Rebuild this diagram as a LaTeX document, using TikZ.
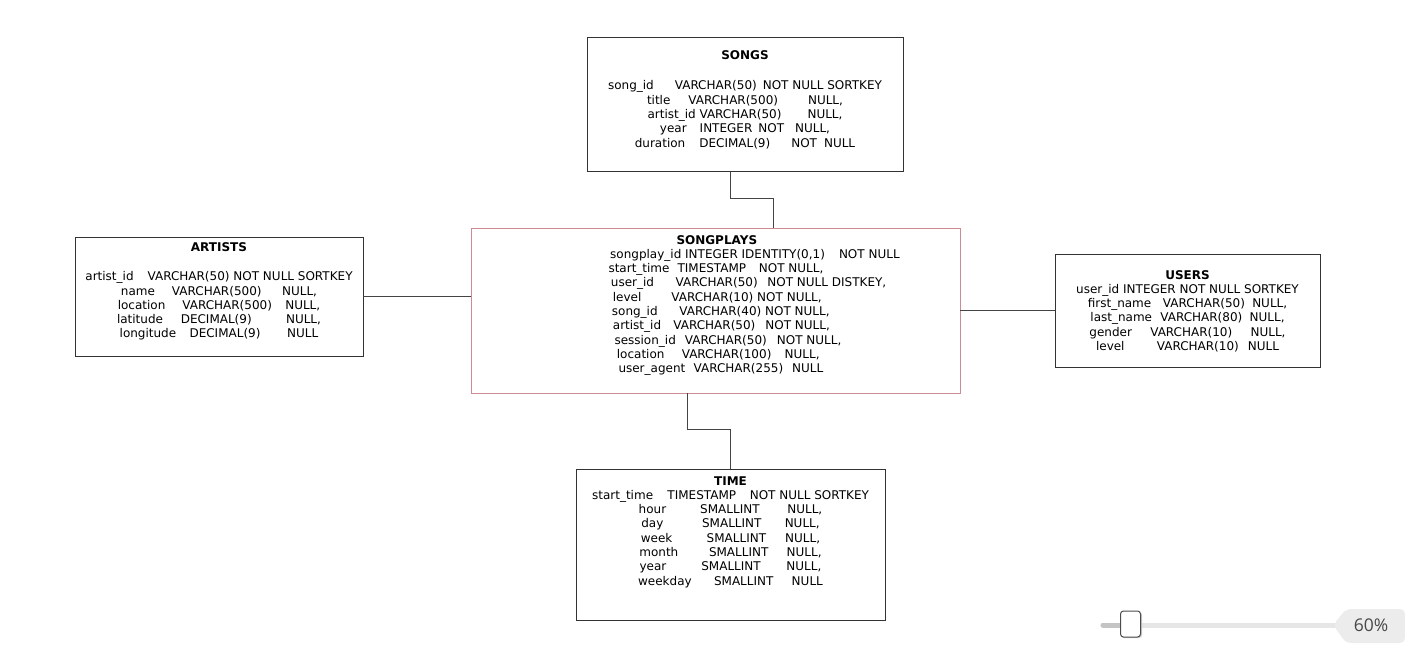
\documentclass[tikz,border=0pt]{standalone}
\usepackage{fontspec}
\setmainfont{DejaVu Sans}
\newfontfamily\pctfont{Open Sans}
\usepackage{tikz}
\usetikzlibrary{positioning, calc}
\definecolor{boxgray}{HTML}{333333}
\definecolor{linegray}{HTML}{444444}
\definecolor{factpink}{HTML}{CC8C94}
\definecolor{trackgray}{HTML}{E6E6E6}
\definecolor{trackdark}{HTML}{C4C4C4}
\definecolor{taggray}{HTML}{ECECEC}
\newcommand{\fgap}[1]{\hspace{#1pt}}

\begin{document}
\begin{tikzpicture}[
    x=1pt, y=-1pt,
    tbl/.style={draw=boxgray, line width=1pt, fill=white, inner sep=0pt, outer sep=0pt},
    fields/.style={font=\fontsize{12}{14.3}\selectfont, align=center, inner sep=0pt, anchor=base},
    conn/.style={draw=linegray, line width=1pt},
]
\useasboundingbox (0,0) rectangle (1405,663);

% Tables
\node[tbl, minimum width=316pt, minimum height=134pt] (songs) at (745,105) {};
\node[tbl, minimum width=288pt, minimum height=119pt] (artists) at (219,296.5) {};
\node[tbl, draw=factpink, minimum width=489pt, minimum height=165pt] (plays) at (715.5,310.5) {};
\node[tbl, minimum width=265pt, minimum height=113pt] (users) at (1187.5,310.5) {};
\node[tbl, minimum width=309pt, minimum height=151pt] (time) at (730.5,544.5) {};

% Songs (anchored at the baseline of the last line)
\node[fields] (songsTxt) at (745,147.2) {
  \textbf{SONGS}\\[15.7pt]
  song\_id\fgap{21}VARCHAR(50)\fgap{6}NOT NULL SORTKEY\\
  title\fgap{18}VARCHAR(500)\fgap{30}NULL,\\
  artist\_id VARCHAR(50)\fgap{26}NULL,\\
  year\fgap{13}INTEGER\fgap{6}NOT\fgap{11}NULL,\\
  duration\fgap{14}DECIMAL(9)\fgap{21}NOT\fgap{7}NULL
};

% Artists
\node[fields] (artistsTxt) at (219,337.9) {
  \textbf{ARTISTS}\\[15.4pt]
  artist\_id\fgap{14}VARCHAR(50) NOT NULL SORTKEY\\
  name\fgap{17}VARCHAR(500)\fgap{20.5}NULL,\\
  location\fgap{17}VARCHAR(500)\fgap{13.3}NULL,\\
  latitude\fgap{17.7}DECIMAL(9)\fgap{34.3}NULL,\\
  longitude\fgap{13.3}DECIMAL(9)\fgap{26.7}NULL
};

% Songplays
\node[fields, align=left, anchor=base west] (playsTxt) at (608.3,372.7) {
  \hspace*{68pt}\textbf{SONGPLAYS}\\
  \hspace*{1.7pt}songplay\_id INTEGER IDENTITY(0,1)\fgap{14}NOT NULL\\
  start\_time\fgap{8}TIMESTAMP\fgap{12.7}NOT NULL,\\
  \hspace*{2.4pt}user\_id\fgap{21.7}VARCHAR(50)\fgap{9.7}NOT NULL DISTKEY,\\
  \hspace*{4.4pt}level\fgap{30}VARCHAR(10) NOT NULL,\\
  \hspace*{3.4pt}song\_id\fgap{21.7}VARCHAR(40) NOT NULL,\\
  \hspace*{4.4pt}artist\_id\fgap{12.3}VARCHAR(50)\fgap{10}NOT NULL,\\
  \hspace*{6pt}session\_id\fgap{9}VARCHAR(50)\fgap{10}NOT NULL,\\
  \hspace*{8.4pt}location\fgap{17.3}VARCHAR(100)\fgap{13.3}NULL,\\
  \hspace*{10pt}user\_agent\fgap{8.3}VARCHAR(255)\fgap{9}NULL
};

% Users
\node[fields] (usersTxt) at (1187.5,350.5) {
  \textbf{USERS}\\
  user\_id INTEGER NOT NULL SORTKEY\\
  first\_name\fgap{11.7}VARCHAR(50)\fgap{7.3}NULL,\\
  last\_name\fgap{8.3}VARCHAR(80)\fgap{7.3}NULL,\\
  gender\fgap{18.3}VARCHAR(10)\fgap{18.3}NULL,\\
  level\fgap{32.3}VARCHAR(10)\fgap{9}NULL
};

% Time
\node[fields] (timeTxt) at (730.5,585.1) {
  \textbf{TIME}\\
  start\_time\fgap{14.3}TIMESTAMP\fgap{13.7}NOT NULL SORTKEY\\
  hour\fgap{34}SMALLINT\fgap{27.7}NULL,\\
  day\fgap{38.7}SMALLINT\fgap{23.3}NULL,\\
  week\fgap{34.3}SMALLINT\fgap{19}NULL,\\
  month\fgap{30.7}SMALLINT\fgap{18.3}NULL,\\
  year\fgap{35}SMALLINT\fgap{25.7}NULL,\\
  weekday\fgap{22.3}SMALLINT\fgap{18.3}NULL
};

% Connectors
\draw[conn] ([xshift=-15pt]songs.south) -- ++(0,26.5) -| ([xshift=57.5pt]plays.north);
\draw[conn] (artists.east) -- (artists.east -| plays.west);
\draw[conn] (plays.east) -- (users.west);
\draw[conn] ([xshift=-28.5pt]plays.south) -- ++(0,36) -| (time.north);

% Zoom slider
\coordinate (trackL) at (1103,625);
\coordinate (trackR) at (1340,625);
\draw[line width=5pt, trackgray, line cap=round] (trackL) -- (trackR);
\draw[line width=5pt, trackdark, line cap=round] (trackL) -- (1122,625);
\fill[black!20, rounded corners=3pt] (1121,612) rectangle (1142,638);
\node[draw=black!70, fill=white, rounded corners=3pt, line width=1pt,
      minimum width=20pt, minimum height=26pt, inner sep=0pt] (knob) at (1130.5,624) {};
\fill[taggray, rounded corners=5pt] (1333,625) -- (1346,609) -- (1405,609)
  -- (1405,643) -- (1346,643) -- cycle;
\node[font=\pctfont\fontsize{17.5}{20}\selectfont, text=black!72, inner sep=0pt] (pct) at (1371,625) {60\%};
\end{tikzpicture}
\end{document}
